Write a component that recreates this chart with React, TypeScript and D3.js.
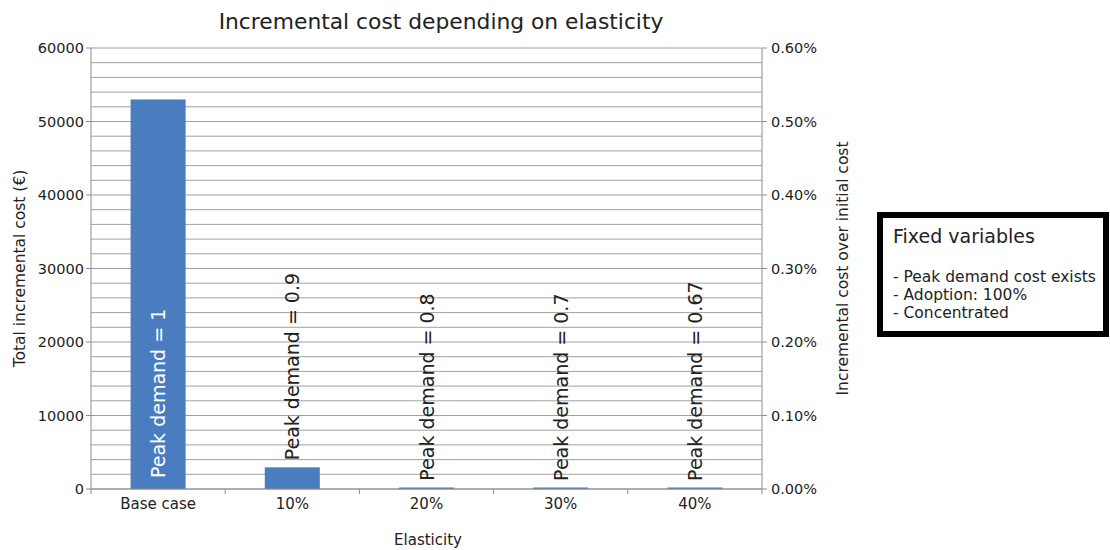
import React from 'react';
import * as d3 from 'd3';

// Elasticity scenarios and the total incremental cost for each one (€)
const categories = ['Base case', '10%', '20%', '30%', '40%'];
const costValues = [53000, 2950, 180, 150, 150];
const peakDemandLabels = ['1', '0.9', '0.8', '0.7', '0.67'];

// Axis ticks
const leftTicks = [0, 10000, 20000, 30000, 40000, 50000, 60000];
const gridLines = d3.range(0, 60001, 2000);
const rightTicks = [0, 0.001, 0.002, 0.003, 0.004, 0.005, 0.006];

const legendTitle = 'Fixed variables';
const legendItems = ['- Peak demand cost exists', '- Adoption: 100%', '- Concentrated'];

const W = 1110;
const H = 550;
const plot = { left: 91, right: 762, top: 48, bottom: 489 };
const FONT = '"DejaVu Sans", Verdana, sans-serif';
const BAR = '#4a7dc0';
const GRID = '#a0a0a0';
const AXIS = '#8c8c8c';
const TEXT = '#222';

export default function App() {
  const x = d3.scaleBand<string>().domain(categories).range([plot.left, plot.right]).padding(0);
  const y = d3.scaleLinear().domain([0, 60000]).range([plot.bottom, plot.top]);
  const yRight = d3.scaleLinear().domain([0, 0.006]).range([plot.bottom, plot.top]);
  const pct = d3.format('.2%');
  const barW = x.bandwidth() * 0.41;
  const boundaries = categories.map((c) => x(c) as number).concat([plot.right]);
  const midY = (plot.top + plot.bottom) / 2;

  return (
    <svg width={W} height={H} style={{ position: 'absolute', left: 0, top: 0, background: '#fff' }} fontFamily={FONT}>
      <rect x={0} y={0} width={W} height={H} fill="#fff" />
      {/* title */}
      <text x={441} y={29} textAnchor="middle" fontSize={21.8} fill={TEXT}>
        Incremental cost depending on elasticity
      </text>

      {/* gridlines */}
      {gridLines.map((g) => (
        <line key={g} x1={plot.left} x2={plot.right} y1={y(g)} y2={y(g)} stroke={GRID} strokeWidth={1} />
      ))}

      {/* bars */}
      {categories.map((c, i) => {
        const cx = (x(c) as number) + x.bandwidth() / 2;
        const top = y(costValues[i]);
        const h = Math.max(plot.bottom - top, 1.5);
        return (
          <rect key={c} x={cx - barW / 2} y={plot.bottom - h} width={barW} height={h} fill={BAR} />
        );
      })}

      {/* axes */}
      <line x1={plot.left} x2={plot.left} y1={plot.top} y2={plot.bottom} stroke={AXIS} />
      <line x1={plot.right} x2={plot.right} y1={plot.top} y2={plot.bottom} stroke={AXIS} />
      <line x1={plot.left} x2={plot.right} y1={plot.bottom} y2={plot.bottom} stroke={AXIS} />
      {boundaries.map((b, i) => (
        <line key={i} x1={b} x2={b} y1={plot.bottom} y2={plot.bottom + 5} stroke={AXIS} />
      ))}

      {/* bar value labels */}
      {categories.map((c, i) => {
        const cx = (x(c) as number) + x.bandwidth() / 2;
        const inside = i === 0;
        const startY = inside ? plot.bottom - 11 : y(costValues[i]) - 7;
        return (
          <text
            key={c}
            transform={`translate(${cx + 7},${startY}) rotate(-90)`}
            fontSize={19}
            fill={inside ? '#fff' : TEXT}
          >
            {`Peak demand = ${peakDemandLabels[i]}`}
          </text>
        );
      })}

      {/* left axis */}
      {leftTicks.map((t) => (
        <g key={t}>
          <line x1={plot.left - 5} x2={plot.left} y1={y(t)} y2={y(t)} stroke={AXIS} />
          <text x={plot.left - 7} y={y(t) + 5} textAnchor="end" fontSize={14.5} fill={TEXT}>
            {t}
          </text>
        </g>
      ))}
      <text transform={`translate(25,${midY}) rotate(-90)`} textAnchor="middle" fontSize={15.5} fill={TEXT}>
        Total incremental cost (€)
      </text>

      {/* right axis */}
      {rightTicks.map((t) => (
        <g key={t}>
          <line x1={plot.right} x2={plot.right + 5} y1={yRight(t)} y2={yRight(t)} stroke={AXIS} />
          <text x={plot.right + 9} y={yRight(t) + 5} textAnchor="start" fontSize={14.5} fill={TEXT}>
            {pct(t)}
          </text>
        </g>
      ))}
      <text transform={`translate(848,${midY}) rotate(-90)`} textAnchor="middle" fontSize={15.5} fill={TEXT}>
        Incremental cost over initial cost
      </text>

      {/* category labels */}
      {categories.map((c) => (
        <text key={c} x={(x(c) as number) + x.bandwidth() / 2} y={509} textAnchor="middle" fontSize={15} fill={TEXT}>
          {c}
        </text>
      ))}
      <text x={428} y={545} textAnchor="middle" fontSize={15} fill={TEXT}>
        Elasticity
      </text>

      {/* fixed-variables box */}
      <rect x={880} y={215} width={226} height={119} fill="#fff" stroke="#000" strokeWidth={6} />
      <text x={893} y={243} fontSize={19} fill={TEXT}>
        {legendTitle}
      </text>
      {legendItems.map((item, i) => (
        <text key={item} x={893} y={282 + i * 18} fontSize={15.5} fill={TEXT}>
          {item}
        </text>
      ))}
    </svg>
  );
}
